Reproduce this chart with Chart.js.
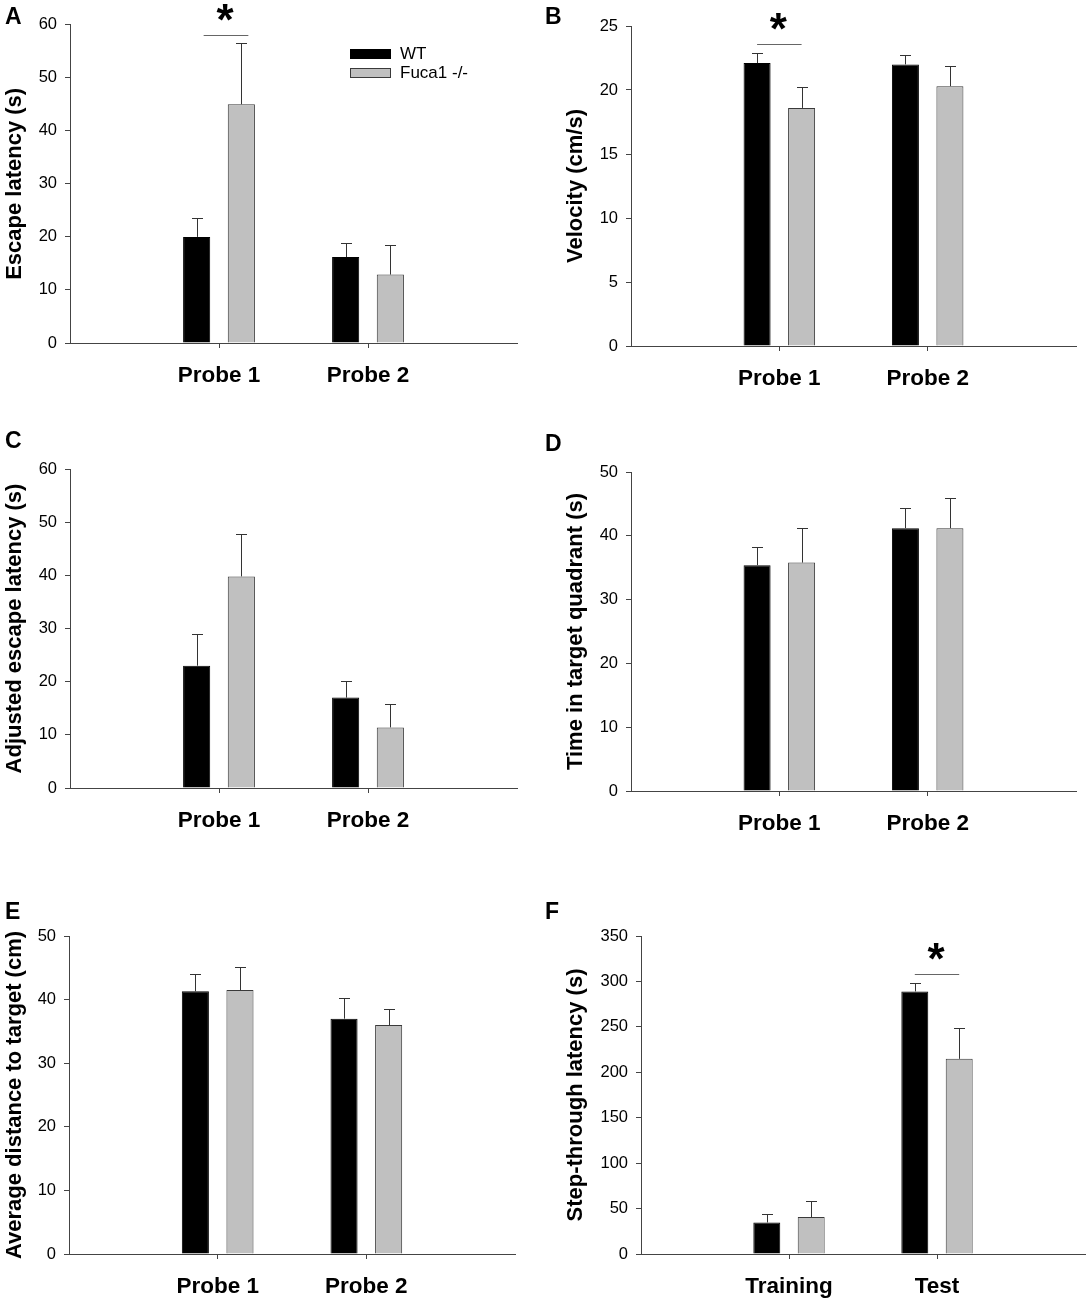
<!DOCTYPE html>
<html>
<head>
<meta charset="utf-8">
<script src="https://cdn.jsdelivr.net/npm/chart.js@4.4.1/dist/chart.umd.min.js"></script>
<style>
html, body { margin:0; padding:0; background:#fff; overflow:hidden; }
body { width:1089px; height:1300px; position:relative; font-family:"Liberation Sans", Arial, sans-serif; }
canvas { position:absolute; }
.panel-letter { position:absolute; font-weight:bold; font-size:23px; line-height:1; color:#000; }
</style>
</head>
<body>
<script>
// ---------- data ----------
const seriesNames = ['WT', 'Fuca1 -/-'];
const probeCategories = ['Probe 1', 'Probe 2'];
const passiveCategories = ['Training', 'Test'];

// A: Escape latency (s)
const escapeWT = [20.0, 16.2];
const escapeWTErr = [3.6, 2.7];
const escapeKO = [45.0, 12.9];
const escapeKOErr = [11.6, 5.6];

// B: Velocity (cm/s)
const velocityWT = [22.1, 22.0];
const velocityWTErr = [0.8, 0.7];
const velocityKO = [18.6, 20.3];
const velocityKOErr = [1.6, 1.6];

// C: Adjusted escape latency (s)
const adjustedWT = [23.0, 17.0];
const adjustedWTErr = [6.0, 3.2];
const adjustedKO = [39.8, 11.4];
const adjustedKOErr = [8.0, 4.4];

// D: Time in target quadrant (s)
const quadrantWT = [35.4, 41.2];
const quadrantWTErr = [2.9, 3.2];
const quadrantKO = [35.8, 41.2];
const quadrantKOErr = [5.4, 4.8];

// E: Average distance to target (cm)
const distanceWT = [41.3, 37.0];
const distanceWTErr = [2.7, 3.3];
const distanceKO = [41.5, 36.0];
const distanceKOErr = [3.6, 2.5];

// F: Step-through latency (s)
const stepWT = [34.7, 289.0];
const stepWTErr = [9.1, 9.8];
const stepKO = [40.6, 214.8];
const stepKOErr = [17.5, 34.0];

// y axis ranges (max, step)
const yMaxes = [60, 25, 60, 50, 50, 350];
const ySteps = [10, 5, 10, 10, 10, 50];

// ---------- layout / style ----------
const FONT = '"Liberation Sans", Arial, sans-serif';
const AXIS = '#444';
const WT_COLOR = '#000000';
const KO_COLOR = '#c0c0c0';

const panels = [
  { letter:'A', lx:5, ly:5,  left:0,   top:0,     width:521, padTop:24.7, plotH:318.6, yWidth:70,
    title:'Escape latency (s)', cats:probeCategories, wt:escapeWT, wtErr:escapeWTErr, ko:escapeKO, koErr:escapeKOErr,
    yi:0, sig:{index:0, value:58, shift:7}, legend:true },
  { letter:'B', lx:545, ly:5, left:561, top:0,     width:519, padTop:26,   plotH:319.7, yWidth:70,
    title:'Velocity (cm/s)', cats:probeCategories, wt:velocityWT, wtErr:velocityWTErr, ko:velocityKO, koErr:velocityKOErr,
    yi:1, sig:{index:0, value:23.6, shift:0} },
  { letter:'C', lx:5, ly:429, left:0,   top:429,   width:521, padTop:40,   plotH:319,   yWidth:70,
    title:'Adjusted escape latency (s)', cats:probeCategories, wt:adjustedWT, wtErr:adjustedWTErr, ko:adjustedKO, koErr:adjustedKOErr,
    yi:2 },
  { letter:'D', lx:545, ly:432, left:561, top:431.5, width:519, padTop:40,   plotH:319,   yWidth:70,
    title:'Time in target quadrant (s)', cats:probeCategories, wt:quadrantWT, wtErr:quadrantWTErr, ko:quadrantKO, koErr:quadrantKOErr,
    yi:3 },
  { letter:'E', lx:5, ly:900, left:0,   top:896,   width:519, padTop:40,   plotH:318,   yWidth:69,
    title:'Average distance to target (cm)', cats:probeCategories, wt:distanceWT, wtErr:distanceWTErr, ko:distanceKO, koErr:distanceKOErr,
    yi:4 },
  { letter:'F', lx:545, ly:900, left:561, top:896,   width:528, padTop:40,   plotH:318,   yWidth:80,
    title:'Step-through latency (s)', cats:passiveCategories, wt:stepWT, wtErr:stepWTErr, ko:stepKO, koErr:stepKOErr,
    yi:5, sig:{index:1, value:308, shift:0} }
];

// ---------- plugins ----------
const errorBarsPlugin = {
  id: 'errorBars',
  afterDatasetsDraw(chart) {
    const ctx = chart.ctx, ys = chart.scales.y;
    chart.data.datasets.forEach((ds, d) => {
      const meta = chart.getDatasetMeta(d);
      meta.data.forEach((bar, i) => {
        const v = ds.data[i].y, e = ds.errors[i];
        const yt = ys.getPixelForValue(v + e);
        const x = Math.round(bar.x) + 0.5;
        ctx.save();
        ctx.strokeStyle = '#333';
        ctx.lineWidth = 1;
        ctx.beginPath();
        ctx.moveTo(x, bar.y);
        ctx.lineTo(x, Math.round(yt) + 0.5);
        ctx.moveTo(x - 5.5, Math.round(yt) + 0.5);
        ctx.lineTo(x + 5.5, Math.round(yt) + 0.5);
        ctx.stroke();
        ctx.restore();
      });
    });
  }
};

const sigPlugin = {
  id: 'sig',
  afterDatasetsDraw(chart, args, opts) {
    if (!opts || opts.index === undefined) return;
    const ctx = chart.ctx;
    const b0 = chart.getDatasetMeta(0).data[opts.index];
    const b1 = chart.getDatasetMeta(1).data[opts.index];
    const y = Math.round(chart.scales.y.getPixelForValue(opts.value)) + 0.5;
    const x0 = b0.x + opts.shift, x1 = b1.x + opts.shift;
    ctx.save();
    ctx.strokeStyle = '#666';
    ctx.lineWidth = 1;
    ctx.beginPath();
    ctx.moveTo(x0, y);
    ctx.lineTo(x1, y);
    ctx.stroke();
    ctx.font = 'bold 44px ' + FONT;
    ctx.fillStyle = '#000';
    ctx.textAlign = 'center';
    ctx.textBaseline = 'alphabetic';
    const m = ctx.measureText('*');
    const cy = y - 23;
    const base = cy + (m.actualBoundingBoxAscent - m.actualBoundingBoxDescent) / 2;
    ctx.fillText('*', (x0 + x1) / 2 - 1, base);
    ctx.restore();
  }
};

const legendPlugin = {
  id: 'customLegend',
  afterDraw(chart, args, opts) {
    if (!opts || !opts.show) return;
    const ctx = chart.ctx, area = chart.chartArea;
    const x = area.left + opts.dx, y0 = area.top + opts.dy;
    ctx.save();
    chart.data.datasets.forEach((ds, i) => {
      const y = y0 + i * 19;
      ctx.fillStyle = ds.backgroundColor;
      ctx.fillRect(x, y, 41, 10);
      ctx.strokeStyle = ds.borderColor;
      ctx.lineWidth = 1;
      ctx.strokeRect(x + 0.5, y + 0.5, 40, 9);
      ctx.fillStyle = '#000';
      ctx.font = '17px ' + FONT;
      ctx.textAlign = 'left';
      ctx.textBaseline = 'middle';
      ctx.fillText(ds.label, x + 50, y + 5.5);
    });
    ctx.restore();
  }
};

// ---------- build ----------
Chart.defaults.font.family = FONT;

panels.forEach(p => {
  const div = document.createElement('div');
  div.className = 'panel-letter';
  div.style.left = p.lx + 'px';
  div.style.top = p.ly + 'px';
  div.textContent = p.letter;

  const height = p.padTop + p.plotH + 50;
  const cv = document.createElement('canvas');
  cv.width = p.width;
  cv.height = Math.round(height);
  cv.style.left = p.left + 'px';
  cv.style.top = p.top + 'px';
  cv.style.width = p.width + 'px';
  cv.style.height = Math.round(height) + 'px';
  document.body.appendChild(cv);
  document.body.appendChild(div);

  const toPts = arr => arr.map((v, i) => ({ x: i + 1, y: v }));

  new Chart(cv, {
    type: 'bar',
    data: {
      datasets: [
        { label: seriesNames[0], data: toPts(p.wt), errors: p.wtErr,
          backgroundColor: WT_COLOR, borderColor: '#000', borderWidth: 1,
          categoryPercentage: 0.6, barPercentage: 0.607 },
        { label: seriesNames[1], data: toPts(p.ko), errors: p.koErr,
          backgroundColor: KO_COLOR, borderColor: '#3a3a3a', borderWidth: 1,
          categoryPercentage: 0.6, barPercentage: 0.607 }
      ]
    },
    options: {
      responsive: false,
      animation: false,
      devicePixelRatio: 1,
      layout: { padding: { top: p.padTop, right: 4, bottom: 0, left: 0 } },
      plugins: {
        legend: { display: false },
        tooltip: { enabled: false },
        sig: p.sig || {},
        customLegend: { show: !!p.legend, dx: 280, dy: 24.3 }
      },
      scales: {
        x: {
          type: 'linear',
          min: 0, max: 3,
          offset: false,
          grid: { display: true, offset: false, drawOnChartArea: false, drawTicks: true, tickLength: 5, color: AXIS, lineWidth: 1 },
          border: { display: true, color: AXIS, width: 1 },
          afterBuildTicks: s => { s.ticks = [{ value: 1 }, { value: 2 }]; },
          afterFit: s => { s.height = 50; },
          ticks: {
            autoSkip: false, maxRotation: 0, minRotation: 0, padding: 14,
            color: '#000', font: { size: 22.5, weight: 'bold' },
            callback: v => p.cats[v - 1] || ''
          }
        },
        y: {
          type: 'linear',
          min: 0, max: yMaxes[p.yi],
          grid: { display: true, drawOnChartArea: false, drawTicks: true, tickLength: 5, color: AXIS, lineWidth: 1 },
          border: { display: true, color: AXIS, width: 1 },
          afterFit: s => { s.width = p.yWidth; },
          ticks: { stepSize: ySteps[p.yi], padding: 8, color: '#000', font: { size: 16.5 } },
          title: { display: true, text: p.title, color: '#000', font: { size: 22, weight: 'bold' }, padding: { top: 2, bottom: 0 } }
        }
      }
    },
    plugins: [errorBarsPlugin, sigPlugin, legendPlugin]
  });
});
</script>
</body>
</html>
